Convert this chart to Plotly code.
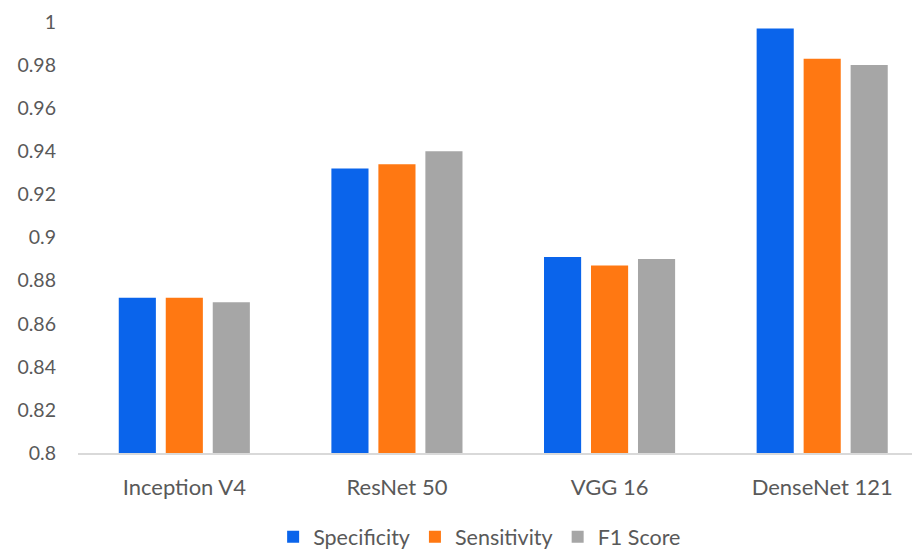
import plotly.graph_objects as go

categories = ["Inception V4", "ResNet 50", "VGG 16", "DenseNet 121"]
specificity = [0.872, 0.932, 0.891, 0.997]
sensitivity = [0.872, 0.934, 0.887, 0.983]
f1_score = [0.870, 0.940, 0.890, 0.980]
y_ticks = [0.8, 0.82, 0.84, 0.86, 0.88, 0.9, 0.92, 0.94, 0.96, 0.98, 1.0]
y_tick_labels = ["0.8", "0.82", "0.84", "0.86", "0.88", "0.9", "0.92", "0.94", "0.96", "0.98", "1"]

FONT = "Lato"
TXT = "#595959"

fig = go.Figure()
fig.add_bar(name="Specificity", x=categories, y=specificity, marker_color="#0A64EB", marker_line_width=0)
fig.add_bar(name="Sensitivity", x=categories, y=sensitivity, marker_color="#FF7812", marker_line_width=0)
fig.add_bar(name="F1 Score", x=categories, y=f1_score, marker_color="#A6A6A6", marker_line_width=0)

fig.update_layout(
    width=912, height=544,
    margin=dict(l=70, r=0, t=14, b=99, autoexpand=False),
    paper_bgcolor="white", plot_bgcolor="white",
    barmode="group", bargap=0.337, bargroupgap=0.21,
    font=dict(family=FONT, size=20, color=TXT),
    showlegend=True,
    legend=dict(orientation="h", x=0.477, xanchor="center", yref="container", y=0.028, yanchor="middle",
                font=dict(size=21.5, color=TXT), itemwidth=30, traceorder="normal"),
)
fig.update_xaxes(range=[-0.5, 3.46], showgrid=False, showline=True, linecolor="#D9D9D9", linewidth=1.5,
                 ticks="", ticklabelstandoff=14, tickfont=dict(size=22, color=TXT), automargin=False)
fig.update_yaxes(range=[0.8, 1.0], tickvals=y_ticks, ticktext=y_tick_labels, showgrid=False,
                 zeroline=False, showline=False, ticks="", ticklabelstandoff=21,
                 tickfont=dict(size=19.5, color=TXT), automargin=False)

fig.write_html("out.html")
